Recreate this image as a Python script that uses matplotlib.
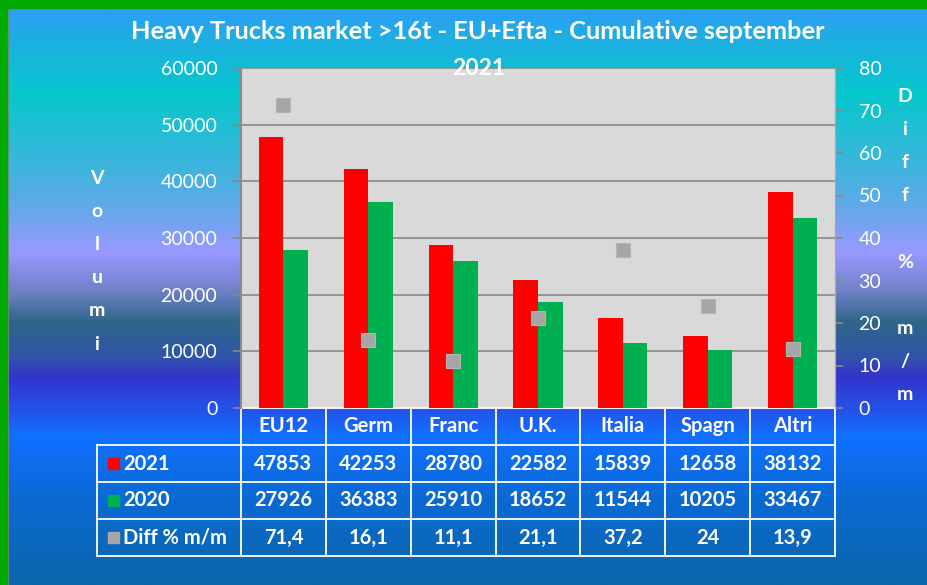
import matplotlib
matplotlib.use("Agg")
import matplotlib.pyplot as plt
import numpy as np
from matplotlib import transforms
from matplotlib.colors import LinearSegmentedColormap
from matplotlib.lines import Line2D
from matplotlib.patches import Rectangle


# ---------------------------------------------------------------------------
# Data
# ---------------------------------------------------------------------------

categories = ["EU12", "Germ", "Franc", "U.K.", "Italia", "Spagn", "Altri"]
vol_2021 = [47853, 42253, 28780, 22582, 15839, 12658, 38132]
vol_2020 = [27926, 36383, 25910, 18652, 11544, 10205, 33467]
diff_pct = [71.4, 16.1, 11.1, 21.1, 37.2, 24.0, 13.9]
diff_labels = ["71,4", "16,1", "11,1", "21,1", "37,2", "24", "13,9"]

left_ticks = [0, 10000, 20000, 30000, 40000, 50000, 60000]
right_ticks = [0, 10, 20, 30, 40, 50, 60, 70, 80]

title_line1 = "Heavy Trucks market >16t - EU+Efta - Cumulative september"
title_line2 = "2021"
left_label = "Volumi"
right_label = "Diff % m/m"

# ---------------------------------------------------------------------------
# Style
# ---------------------------------------------------------------------------

RED = "#ff0000"
GREEN = "#00b050"
GRAY = "#a6a6a6"
GRID = "#888888"
PLOT_BG = "#d9d9d9"
BORDER = "#00a800"

BG_STOPS = [
    (0.00, "#3399ff"),
    (0.05, "#22aae6"),
    (0.16, "#06c8cc"),
    (0.29, "#40b4dd"),
    (0.36, "#66a8ec"),
    (0.43, "#9999ff"),
    (0.50, "#6d80c4"),
    (0.55, "#2f6688"),
    (0.61, "#3055aa"),
    (0.645, "#3333cc"),
    (0.70, "#2452e8"),
    (0.745, "#1170ff"),
    (0.85, "#0a6ad4"),
    (1.00, "#0a66aa"),
]

plt.rcParams["font.family"] = ["Lato", "DejaVu Sans"]

W, H = 928, 585
fig = plt.figure(figsize=(W / 100, H / 100), dpi=100)

# gradient background
bg = fig.add_axes([0, 0, 1, 1], zorder=-10)
cmap = LinearSegmentedColormap.from_list("bg", BG_STOPS)
grad = np.linspace(0, 1, 512).reshape(-1, 1)
bg.imshow(grad, cmap=cmap, aspect="auto", extent=[0, 1, 0, 1], origin="upper")
bg.set_xlim(0, 1)
bg.set_ylim(0, 1)
bg.axis("off")

# green frame (left and top only, the picture is cropped on the other sides)
for x0, y0, w, h in [(0, 0, 7, H), (0, 0, W, 8)]:
    fig.patches.append(Rectangle((x0 / W, 1 - (y0 + h) / H), w / W, h / H,
                                 transform=fig.transFigure, color=BORDER, zorder=5))
fig.add_artist(Line2D([7.5 / W, 1], [1 - 8.8 / H, 1 - 8.8 / H],
                      color="#8a8a8a", lw=1.2, transform=fig.transFigure))
fig.add_artist(Line2D([7.8 / W, 7.8 / W], [0, 1 - 8.8 / H],
                      color="#8a8a8a", lw=1.2, transform=fig.transFigure))

# ---------------------------------------------------------------------------
# Plot area
# ---------------------------------------------------------------------------

ax_left, ax_top, ax_w, ax_h = 241, 68, 594, 340
ax = fig.add_axes([ax_left / W, 1 - (ax_top + ax_h) / H, ax_w / W, ax_h / H])
ax.set_facecolor(PLOT_BG)

x = np.arange(len(categories))
bw = 0.289
ax.bar(x - bw / 2, vol_2021, bw, color=RED, zorder=3)
ax.bar(x + bw / 2, vol_2020, bw, color=GREEN, zorder=3)

ax.set_xlim(-0.5, len(categories) - 0.5)
ax.set_ylim(0, 60000)
ax.set_yticks(left_ticks)
ax.set_yticklabels([str(t) for t in left_ticks])
ax.set_xticks([])
ax.yaxis.grid(True, color=GRID, lw=1.2, zorder=0)
ax.set_axisbelow(True)
ax.tick_params(axis="y", direction="out", length=6, width=1.2, color=GRID,
               labelcolor="white", labelsize=14, pad=11)
for side in ["top", "bottom"]:
    ax.spines[side].set_visible(False)
ax.spines["left"].set_color("#8a8a8a")
ax.spines["left"].set_linewidth(1.5)
ax.spines["right"].set_color("#a8a8a8")

ax2 = ax.twinx()
ax2.plot(x, diff_pct, linestyle="none", marker="s", markersize=10,
         markerfacecolor=GRAY, markeredgecolor="#b4b4b4", markeredgewidth=0.8, zorder=4)
ax2.set_ylim(0, 80)
ax2.set_yticks(right_ticks)
ax2.set_yticklabels([str(t) for t in right_ticks])
ax2.tick_params(axis="y", direction="out", length=6, width=1.2, color=GRID,
                labelcolor="white", labelsize=14, pad=11)
for side in ["top", "bottom", "left"]:
    ax2.spines[side].set_visible(False)
ax2.spines["right"].set_color("#a8a8a8")

# ---------------------------------------------------------------------------
# Data table under the plot
# ---------------------------------------------------------------------------

trans = transforms.blended_transform_factory(ax.transData, ax.transAxes)
col_px = ax_w / len(categories)
label_left = -0.5 - 144 / col_px
row_h = 37 / ax_h
txt = dict(color="white", fontsize=14.5, fontweight="bold", transform=trans,
           clip_on=False, va="center")

rows = [
    ("2021", RED, [str(v) for v in vol_2021]),
    ("2020", GREEN, [str(v) for v in vol_2020]),
    ("Diff % m/m", GRAY, diff_labels),
]
n_rows = len(rows) + 1
bottom = -n_rows * row_h

line_kw = dict(color="white", lw=1.3, transform=trans, clip_on=False)
ax.add_line(Line2D([-0.5, len(categories) - 0.5], [0, 0], **line_kw))
for r in range(1, n_rows + 1):
    ax.add_line(Line2D([label_left, len(categories) - 0.5], [-r * row_h] * 2, **line_kw))
for i in range(len(categories) + 1):
    ax.add_line(Line2D([i - 0.5] * 2, [0, bottom], **line_kw))
ax.add_line(Line2D([label_left] * 2, [-row_h, bottom], **line_kw))

for i, cat in enumerate(categories):
    ax.text(i, -0.5 * row_h, cat, ha="center", **txt)

sq = 11 / col_px
for r, (name, color, vals) in enumerate(rows, start=1):
    yc = -(r + 0.5) * row_h
    ax.add_patch(Rectangle((label_left + 11 / col_px, yc - 5.5 / ax_h), sq, 11 / ax_h,
                           color=color, transform=trans, clip_on=False))
    ax.text(label_left + 26 / col_px, yc, name, ha="left", **txt)
    for i, v in enumerate(vals):
        ax.text(i, yc, v, ha="center", **txt)

# ---------------------------------------------------------------------------
# Titles and stacked axis labels
# ---------------------------------------------------------------------------

fig.text(478 / W, 1 - 39 / H, title_line1, ha="center", va="baseline", color="white",
         fontsize=18.3, fontweight="bold")
fig.text(479 / W, 1 - 75 / H, title_line2, ha="center", va="baseline", color="white",
         fontsize=16.5, fontweight="bold", zorder=10)

for k, ch in enumerate(left_label):
    fig.text(97 / W, 1 - (178 + 33.2 * k) / H, ch, ha="center", va="center",
             color="white", fontsize=14, fontweight="bold")
for k, ch in enumerate(right_label):
    fig.text(905 / W, 1 - (96 + 33.2 * k) / H, ch, ha="center", va="center",
             color="white", fontsize=14, fontweight="bold")

fig.savefig("out.png", dpi=100)
